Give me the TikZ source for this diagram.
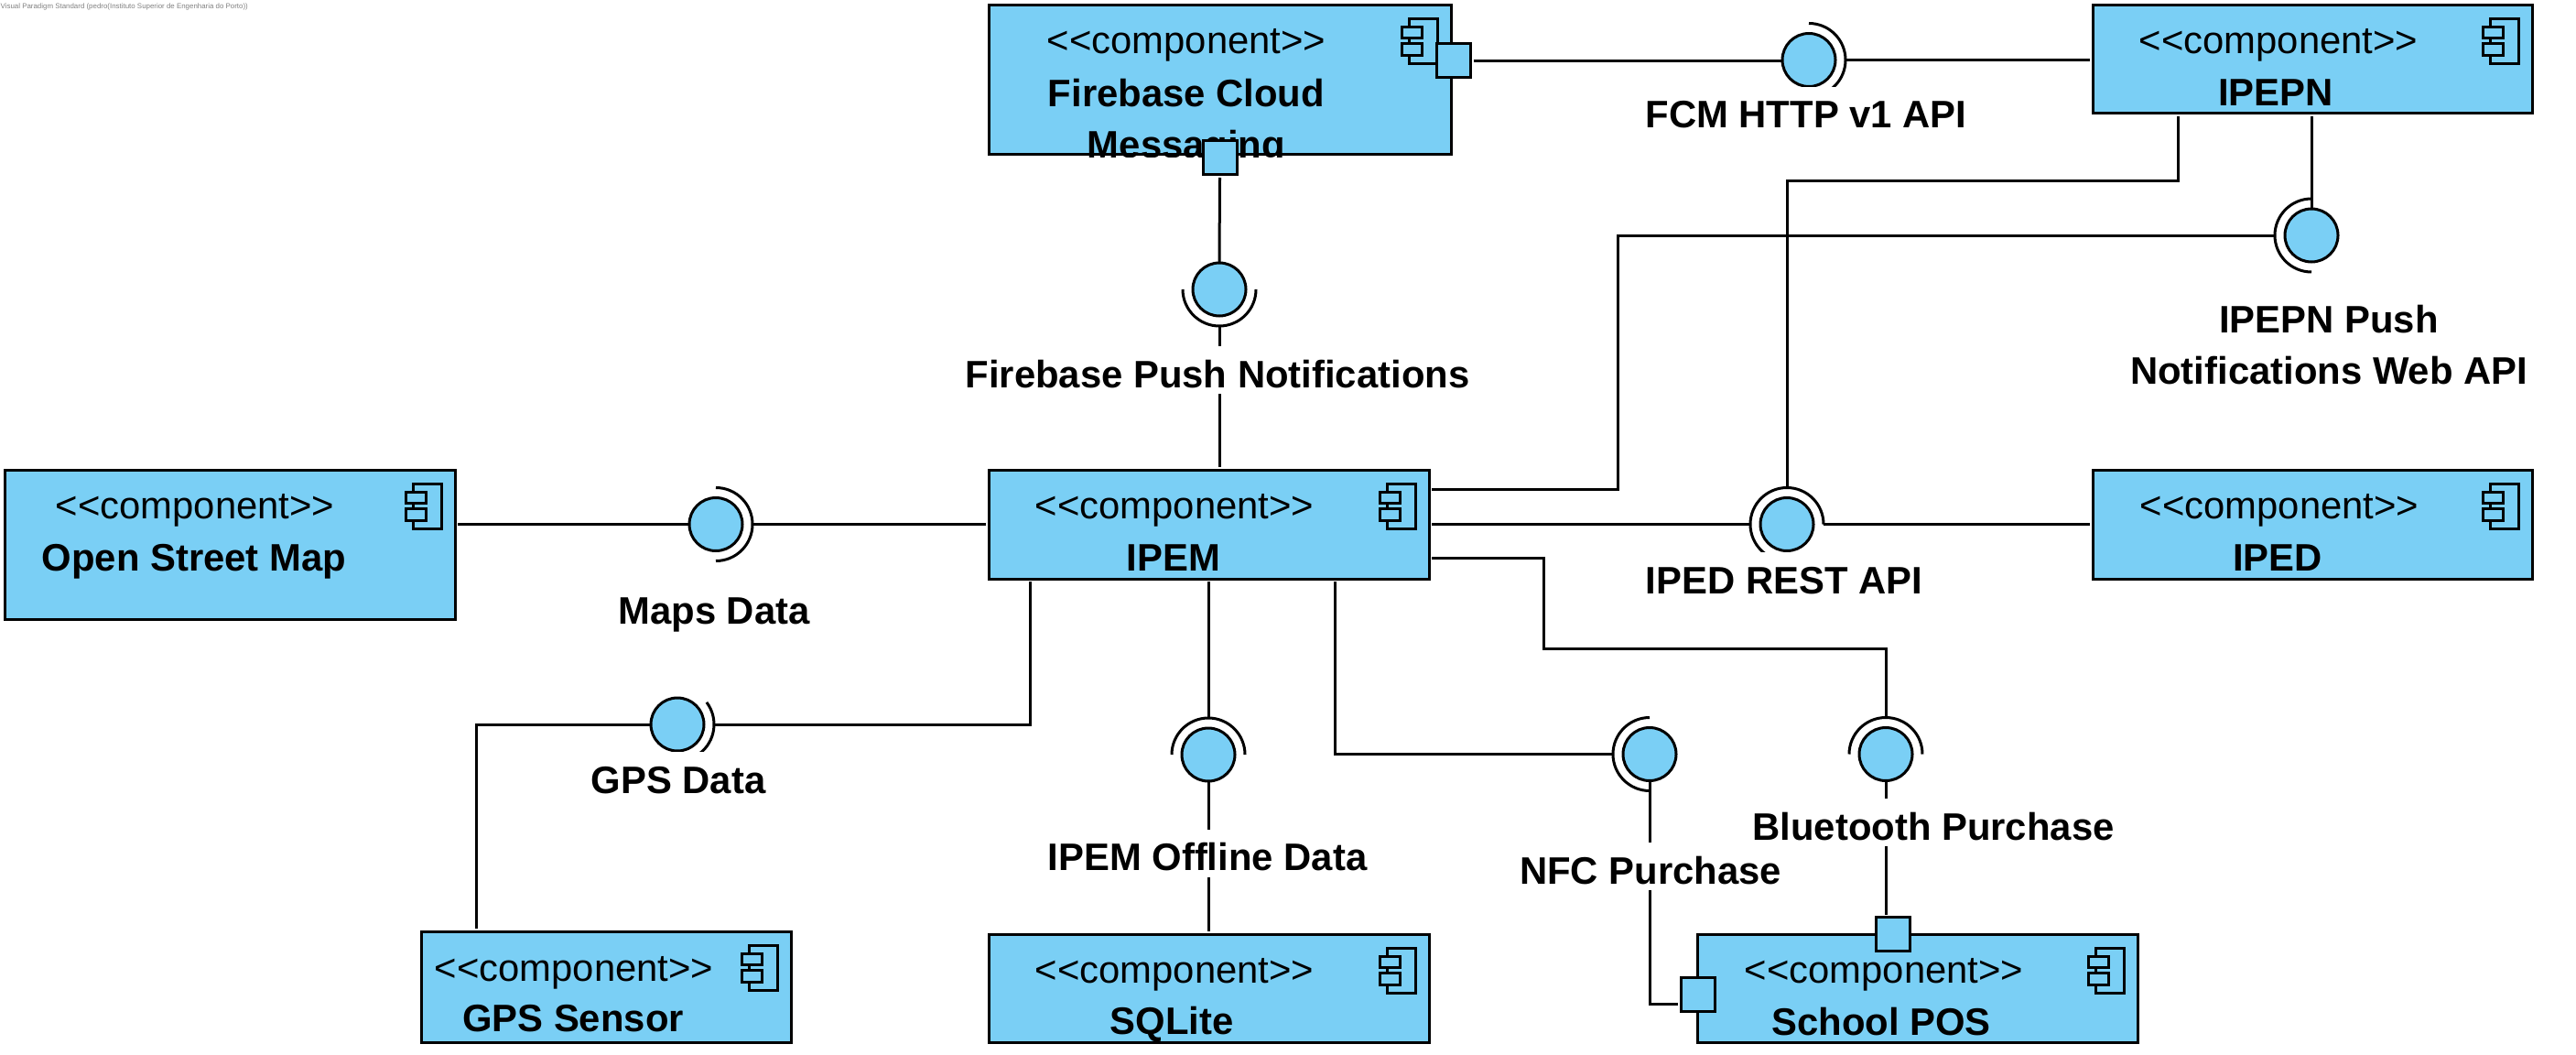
\documentclass[tikz,border=0pt]{standalone}
\usepackage{fontspec}
\setmainfont{Liberation Sans}
\usetikzlibrary{calc}
\definecolor{compblue}{HTML}{7ACFF5}
\newcommand{\umlstereo}{<\kern0pt<component>\kern0pt>}
\tikzset{
conn/.style={line width=.03cm},
comp/.style n args={2}{rectangle,draw,line width=.03cm,fill=compblue,outer sep=.03cm,inner sep=0pt,minimum width=#1,minimum height=#2},
port/.style={rectangle,draw,line width=.03cm,fill=compblue,outer sep=.03cm,inner sep=0pt,minimum size=.37cm},
ball/.style={circle,draw,line width=.03cm,fill=compblue,outer sep=0pt,inner sep=0pt,minimum size=.58cm},
socket/.style={circle,outer sep=0pt,inner sep=0pt,minimum size=.8cm},
stereo/.style={anchor=base,inner sep=0pt},
compname/.style={anchor=base,inner sep=0pt,font=\fontsize{11.9}{15.9}\selectfont\bfseries},
iface/.style={anchor=base,inner sep=0pt,fill=white,text height=.45cm,text depth=.07cm,font=\fontsize{11.9}{15.9}\selectfont\bfseries},
compicon/.pic={
    \draw[line width=.03cm] (-.49,-.18) rectangle (-.18,-.67);
    \draw[line width=.03cm,fill=compblue] (-.57,-.27) rectangle (-.35,-.39);
    \draw[line width=.03cm,fill=compblue] (-.57,-.45) rectangle (-.35,-.58);
},
}
\tikzstyle{every node}=[font=\fontsize{11.9}{15.9}\selectfont]

\begin{document}
\begin{tikzpicture}
        \useasboundingbox (0,0) rectangle (28.14,-11.52);
        \node[anchor=west,inner sep=0pt,text=gray,font=\fontsize{2.25}{3}\selectfont] (banner) at (0,-.07)
            {Visual Paradigm Standard (pedro(Instituto Superior de Engenharia do Porto))};

        % components
        \node[comp={5.05cm}{1.63cm}] (Firebase) at (13.325,-.875) {};
        \node[comp={4.80cm}{1.18cm}] (IPEPN) at (25.26,-.65) {};
        \node[comp={4.81cm}{1.19cm}] (IPEM) at (13.205,-5.725) {};
        \node[comp={4.80cm}{1.19cm}] (IPED) at (25.26,-5.725) {};
        \node[comp={4.91cm}{1.63cm}] (OSM) at (2.515,-5.945) {};
        \node[comp={4.045cm}{1.21cm}] (GPSSensor) at (6.6225,-10.775) {};
        \node[comp={4.81cm}{1.18cm}] (SQLite) at (13.205,-10.79) {};
        \node[comp={4.81cm}{1.18cm}] (POS) at (20.945,-10.79) {};

        \pic at (Firebase.north east) {compicon};
        \pic at (IPEPN.north east) {compicon};
        \pic at (IPEM.north east) {compicon};
        \pic at (IPED.north east) {compicon};
        \pic at (OSM.north east) {compicon};
        \pic at (GPSSensor.north east) {compicon};
        \pic at (SQLite.north east) {compicon};
        \pic at (POS.north east) {compicon};

        \node[stereo] (FirebaseS) at (12.96,-.59) {\umlstereo};
        \node[stereo] (IPEPNS) at (24.89,-.59) {\umlstereo};
        \node[stereo] (IPEMS) at (12.83,-5.66) {\umlstereo};
        \node[stereo] (IPEDS) at (24.90,-5.66) {\umlstereo};
        \node[stereo] (OSMS) at (2.13,-5.66) {\umlstereo};
        \node[stereo] (GPSSensorS) at (6.27,-10.71) {\umlstereo};
        \node[stereo] (SQLiteS) at (12.83,-10.735) {\umlstereo};
        \node[stereo] (POSS) at (20.58,-10.73) {\umlstereo};

        \begin{scope}
            \clip (Firebase.south west) rectangle (Firebase.north east);
            \node[compname,align=center] (FirebaseN) at (12.96,-1.72) {Firebase Cloud\\Messaging};
        \end{scope}
        \node[compname] (IPEPNN) at (24.86,-1.16) {IPEPN};
        \node[compname] (IPEMN) at (12.82,-6.23) {IPEM};
        \node[compname] (IPEDN) at (24.88,-6.23) {IPED};
        \node[compname] (OSMN) at (2.12,-6.23) {Open Street Map};
        \node[compname] (GPSSensorN) at (6.26,-11.26) {GPS Sensor};
        \node[compname] (SQLiteN) at (12.80,-11.29) {SQLite};
        \node[compname] (POSN) at (20.55,-11.30) {School POS};

        % interfaces
        \node[ball] (FCM) at (19.76,-.655) {};
        \node[socket] (FCMA) at (FCM) {};
        \draw[conn] (FCMA.north) arc[start angle=90,end angle=-90,radius=.4];

        \node[ball] (Push) at (13.32,-3.16) {};
        \node[socket] (PushA) at (Push) {};
        \draw[conn] (PushA.west) arc[start angle=180,end angle=360,radius=.4];

        \node[ball] (Web) at (25.25,-2.57) {};
        \node[socket] (WebA) at (Web) {};
        \draw[conn] (WebA.north) arc[start angle=90,end angle=270,radius=.4];

        \node[ball] (Maps) at (7.82,-5.725) {};
        \node[socket] (MapsA) at (Maps) {};
        \draw[conn] (MapsA.north) arc[start angle=90,end angle=-90,radius=.4];

        \node[ball] (REST) at (19.52,-5.725) {};
        \node[socket] (RESTA) at (REST) {};
        \draw[conn] (RESTA.east) arc[start angle=0,end angle=270,radius=.4];

        \node[ball] (GPS) at (7.40,-7.91) {};
        \node[socket] (GPSA) at (GPS) {};
        \draw[conn] (GPS) ++(37:.4) arc[start angle=37,end angle=-90,radius=.4];

        \node[ball] (Offline) at (13.20,-8.24) {};
        \node[socket] (OfflineA) at (Offline) {};
        \draw[conn] (OfflineA.west) arc[start angle=180,end angle=0,radius=.4];

        \node[ball] (NFC) at (18.02,-8.235) {};
        \node[socket] (NFCA) at (NFC) {};
        \draw[conn] (NFCA.north) arc[start angle=90,end angle=270,radius=.4];

        \node[ball] (BT) at (20.60,-8.235) {};
        \node[socket] (BTA) at (BT) {};
        \draw[conn] (BTA.west) arc[start angle=180,end angle=0,radius=.4];

        % ports
        \node[port] (FirebasePortE) at (15.88,-.665) {};
        \node[port] (FirebasePortS) at (13.325,-1.725) {};
        \node[port] (POSPortN) at (20.675,-10.20) {};
        \node[port] (POSPortW) at (18.545,-10.86) {};

        % turning points
        \coordinate (webTurn) at (17.67,-5.34);
        \coordinate (restTurn) at (23.79,-1.98);
        \coordinate (gpsTurn) at (11.25,-7.91);
        \coordinate (gpsDrop) at (5.20,-7.91);
        \coordinate (nfcTurn) at (14.58,-8.235);
        \coordinate (btTurnA) at (16.86,-6.09);
        \coordinate (btTurnB) at (20.60,-7.08);

        % connectors
        \draw[conn] (FirebasePortE.east) -- (FCM.west |- FirebasePortE.east);
        \draw[conn] (FCMA.east) -- (FCMA.east -| IPEPN.west);
        \draw[conn] (FirebasePortS.south) -- (Push.north);
        \draw[conn] (PushA.south) -- (PushA.south |- IPEM.north);
        \draw[conn] (OSM.east |- Maps) -- (Maps.west);
        \draw[conn] (MapsA.east) -- (IPEM.west);
        \draw[conn] (IPEM.east) -- (RESTA.west);
        \draw[conn] (RESTA.east) -- (IPED.west);
        \draw[conn] (IPEM.east |- webTurn) -- (webTurn) |- (WebA.west);
        \draw[conn] (IPEPN.south -| restTurn) -- (restTurn) -| (RESTA.north);
        \draw[conn] (IPEPN.south -| Web) -- (Web.north);
        \draw[conn] (IPEM.south -| gpsTurn) -- (gpsTurn) -- (GPSA.east);
        \draw[conn] (GPS.west) -- (gpsDrop) -- (GPSSensor.north -| gpsDrop);
        \draw[conn] (IPEM.south -| Offline) -- (OfflineA.north);
        \draw[conn] (Offline.south) -- (Offline.south |- SQLite.north);
        \draw[conn] (IPEM.south -| nfcTurn) -- (nfcTurn) -- (NFCA.west);
        \draw[conn] (NFC.south) |- ([yshift=-.1cm]POSPortW.west);
        \draw[conn] (IPEM.east |- btTurnA) -- (btTurnA) |- (btTurnB) -- (BTA.north);
        \draw[conn] (BT.south) -- (BT.south |- POSPortN.north);

        % interface labels
        \node[iface] (FCMLabel) at (19.73,-1.40) {FCM HTTP v1 API};
        \node[iface] (PushLabel) at (13.30,-4.23) {Firebase Push Notifications};
        \node[compname,align=center] (WebLabel) at (25.44,-4.19) {IPEPN Push\\Notifications Web API};
        \node[iface] (MapsLabel) at (7.80,-6.81) {Maps Data};
        \node[iface] (RESTLabel) at (19.49,-6.48) {IPED REST API};
        \node[iface] (GPSLabel) at (7.41,-8.66) {GPS Data};
        \node[iface] (OfflineLabel) at (13.19,-9.505) {IPEM Offline Data};
        \node[iface] (NFCLabel) at (18.03,-9.65) {NFC Purchase};
        \node[iface] (BTLabel) at (21.12,-9.17) {Bluetooth Purchase};
\end{tikzpicture}
\end{document}
